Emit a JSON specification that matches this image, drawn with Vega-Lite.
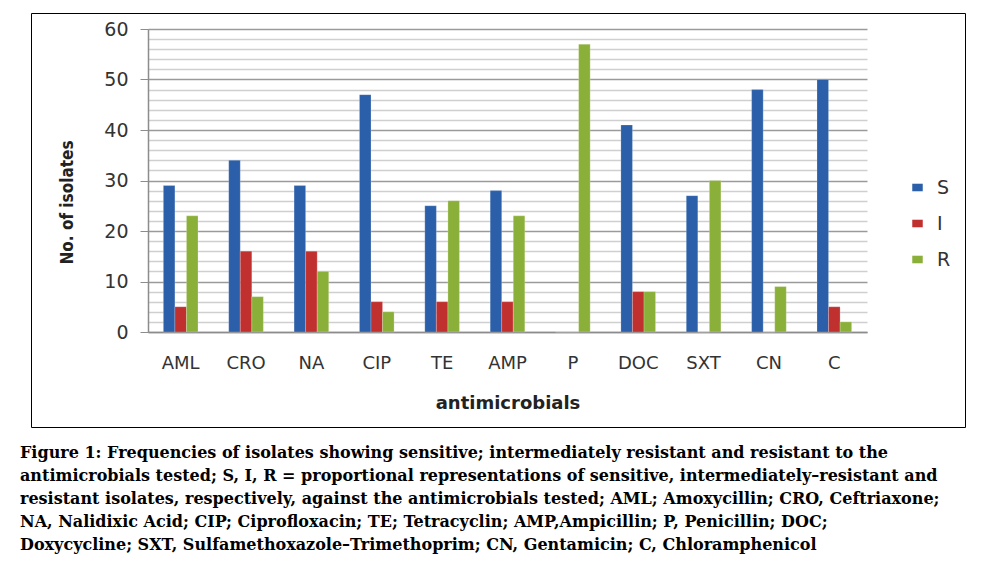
{
  "$schema": "https://vega.github.io/schema/vega-lite/v6.json",
  "width": 934,
  "height": 414,
  "autosize": {"type": "none"},
  "padding": {"left": 31, "top": 13, "right": 24, "bottom": 151},
  "background": "white",
  "config": {
    "view": {"stroke": "black", "strokeWidth": 1},
    "font": "DejaVu Sans"
  },
  "title": {
    "text": [
      "Figure 1: Frequencies of isolates showing sensitive; intermediately resistant and resistant to the",
      "antimicrobials tested; S, I, R = proportional representations of sensitive, intermediately–resistant and",
      "resistant isolates, respectively, against the antimicrobials tested; AML; Amoxycillin; CRO, Ceftriaxone;",
      "NA, Nalidixic Acid; CIP; Ciprofloxacin; TE; Tetracyclin; AMP,Ampicillin; P, Penicillin; DOC;",
      "Doxycycline; SXT, Sulfamethoxazole–Trimethoprim; CN, Gentamicin; C, Chloramphenicol"
    ],
    "orient": "bottom",
    "anchor": "start",
    "dx": -11,
    "offset": 18,
    "font": "DejaVu Serif",
    "fontSize": 16,
    "fontWeight": "bold",
    "color": "black",
    "lineHeight": 23
  },
  "data": {
    "values": [
      {"drug": "AML", "group": "S", "n": 29}, {"drug": "AML", "group": "I", "n": 5}, {"drug": "AML", "group": "R", "n": 23},
      {"drug": "CRO", "group": "S", "n": 34}, {"drug": "CRO", "group": "I", "n": 16}, {"drug": "CRO", "group": "R", "n": 7},
      {"drug": "NA", "group": "S", "n": 29}, {"drug": "NA", "group": "I", "n": 16}, {"drug": "NA", "group": "R", "n": 12},
      {"drug": "CIP", "group": "S", "n": 47}, {"drug": "CIP", "group": "I", "n": 6}, {"drug": "CIP", "group": "R", "n": 4},
      {"drug": "TE", "group": "S", "n": 25}, {"drug": "TE", "group": "I", "n": 6}, {"drug": "TE", "group": "R", "n": 26},
      {"drug": "AMP", "group": "S", "n": 28}, {"drug": "AMP", "group": "I", "n": 6}, {"drug": "AMP", "group": "R", "n": 23},
      {"drug": "P", "group": "S", "n": 0}, {"drug": "P", "group": "I", "n": 0}, {"drug": "P", "group": "R", "n": 57},
      {"drug": "DOC", "group": "S", "n": 41}, {"drug": "DOC", "group": "I", "n": 8}, {"drug": "DOC", "group": "R", "n": 8},
      {"drug": "SXT", "group": "S", "n": 27}, {"drug": "SXT", "group": "I", "n": 0}, {"drug": "SXT", "group": "R", "n": 30},
      {"drug": "CN", "group": "S", "n": 48}, {"drug": "CN", "group": "I", "n": 0}, {"drug": "CN", "group": "R", "n": 9},
      {"drug": "C", "group": "S", "n": 50}, {"drug": "C", "group": "I", "n": 5}, {"drug": "C", "group": "R", "n": 2}
    ]
  },
  "mark": {"type": "bar", "strokeWidth": 0.6, "stroke": "#ffffff", "strokeOpacity": 0.35},
  "encoding": {
    "x": {
      "field": "drug",
      "type": "nominal",
      "sort": null,
      "scale": {"range": [117, 836], "paddingInner": 0.47, "paddingOuter": 0.235},
      "axis": {
        "title": "antimicrobials",
        "titleFont": "DejaVu Sans",
        "titleFontSize": 18,
        "titleFontWeight": "bold",
        "titleColor": "#222",
        "titleY": 71,
        "titleBaseline": "middle",
        "labelAngle": 0,
        "labelFontSize": 18,
        "labelColor": "#333",
        "labelPadding": 22,
        "ticks": false,
        "domainColor": "#8c8c8c",
        "domainWidth": 1.5,
        "offset": -95
      }
    },
    "xOffset": {"field": "group", "type": "nominal", "sort": ["S", "I", "R"], "scale": {"paddingInner": 0, "paddingOuter": 0}},
    "y": {
      "field": "n",
      "type": "quantitative",
      "scale": {"domain": [0, 60], "range": [319, 16], "nice": false, "zero": true},
      "axis": {
        "title": "No. of isolates",
        "titleFont": "DejaVu Sans Condensed, Liberation Sans, sans-serif",
        "titleFontSize": 17,
        "titleFontWeight": "bold",
        "titleColor": "#222",
        "titleX": -81,
        "titleY": 189,
        "titleBaseline": "middle",
        "values": [0, 2, 4, 6, 8, 10, 12, 14, 16, 18, 20, 22, 24, 26, 28, 30, 32, 34, 36, 38, 40, 42, 44, 46, 48, 50, 52, 54, 56, 58, 60],
        "labelExpr": "datum.value % 10 === 0 ? datum.label : ''",
        "labelFontSize": 19,
        "labelColor": "#333",
        "labelPadding": 12,
        "tickSize": 8,
        "tickColor": "#8c8c8c",
        "tickOpacity": {"condition": {"test": "datum.value % 10 === 0", "value": 1}, "value": 0},
        "grid": true,
        "gridColor": {"condition": {"test": "datum.value % 10 === 0", "value": "#9a9a9a"}, "value": "#cfcfcf"},
        "gridWidth": 1.3,
        "domainColor": "#8c8c8c",
        "domainWidth": 1.5,
        "offset": -117
      }
    },
    "color": {
      "field": "group",
      "type": "nominal",
      "sort": ["S", "I", "R"],
      "scale": {"domain": ["S", "I", "R"], "range": ["#2B5FA9", "#C0302E", "#8BB03A"]},
      "legend": {
        "title": null,
        "orient": "none",
        "legendX": 877,
        "legendY": 165,
        "symbolType": "M-1,-0.72H1V0.72H-1Z",
        "symbolSize": 110,
        "symbolStrokeWidth": 0,
        "labelFontSize": 19,
        "labelColor": "#333",
        "labelOffset": 10,
        "rowPadding": 16
      }
    }
  }
}
